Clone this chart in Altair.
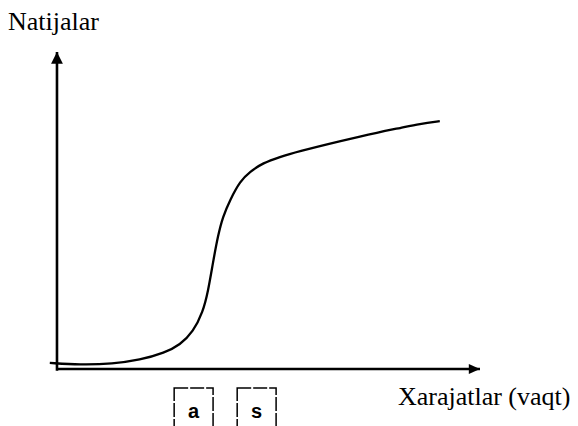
import altair as alt
import pandas as pd

# curve: spending (x) vs results (y), arbitrary units 0..100
curve_x = [-1.7, 5.4, 13.2, 19.6, 25.5, 29.1, 32.2, 34.5, 35.7, 36.9, 38.1, 39.2, 40.9,
           43.3, 45.6, 48.7, 52.7, 56.7, 66.9, 76.4, 81.1, 85.8, 90.5]
curve_y = [1.9, 1.3, 1.6, 2.8, 5.1, 7.6, 11.7, 18.0, 24.3, 33.8, 42.3, 48.0, 53.3,
           59.3, 62.2, 65.0, 66.9, 68.5, 71.9, 74.8, 76.0, 77.3, 78.2]

box_labels = ["a", "s"]
box_x1 = [27.7, 42.6]
box_x2 = [36.9, 51.8]
box_y1 = [-6.0, -6.0]
box_y2 = [-18.5, -18.5]

y_title = "Natijalar"
x_title = "Xarajatlar (vaqt)"

X_DOM = [-11.58, 121.28]
Y_DOM = [-18.0, 113.88]

xs = alt.Scale(domain=X_DOM, nice=False, zero=False)
ys = alt.Scale(domain=Y_DOM, nice=False, zero=False)

curve_df = pd.DataFrame({"x": curve_x, "y": curve_y})
curve = alt.Chart(curve_df).mark_line(color="black", strokeWidth=2.3, interpolate="basis").encode(
    x=alt.X("x:Q", scale=xs, axis=None),
    y=alt.Y("y:Q", scale=ys, axis=None),
)

axes_df = pd.DataFrame({"x": [0, 0], "y": [-0.6, 0], "x2": [0, 100], "y2": [100, 0]})
axes = alt.Chart(axes_df).mark_rule(color="black", strokeWidth=2.6).encode(
    x=alt.X("x:Q", scale=xs, axis=None), y=alt.Y("y:Q", scale=ys, axis=None),
    x2="x2:Q", y2="y2:Q",
)

up_arrow = alt.Chart(pd.DataFrame({"x": [0], "y": [100]})).mark_point(
    shape="M0,0L-0.5,1L0.5,1Z", filled=True, color="black", opacity=1, size=560
).encode(x=alt.X("x:Q", scale=xs, axis=None), y=alt.Y("y:Q", scale=ys, axis=None))

right_arrow = alt.Chart(pd.DataFrame({"x": [100], "y": [0]})).mark_point(
    shape="M0,0L-1,-0.45L-1,0.45Z", filled=True, color="black", opacity=1, size=500
).encode(x=alt.X("x:Q", scale=xs, axis=None), y=alt.Y("y:Q", scale=ys, axis=None))

boxes_df = pd.DataFrame({"label": box_labels, "x1": box_x1, "x2": box_x2, "y1": box_y1, "y2": box_y2,
                         "cx": [(a + b) / 2 for a, b in zip(box_x1, box_x2)],
                         "cy": [-13.6, -13.6]})
boxes = alt.Chart(boxes_df).mark_rect(fill=None, stroke="black", strokeWidth=1.5, strokeDash=[14, 2]).encode(
    x=alt.X("x1:Q", scale=xs, axis=None), x2="x2:Q",
    y=alt.Y("y1:Q", scale=ys, axis=None), y2="y2:Q",
)
box_text = alt.Chart(boxes_df).mark_text(font="Liberation Sans", fontWeight="bold", fontSize=20,
                                         color="black", baseline="middle", align="center").encode(
    x=alt.X("cx:Q", scale=xs, axis=None), y=alt.Y("cy:Q", scale=ys, axis=None), text="label:N"
)

titles_df = pd.DataFrame({"t": [y_title, x_title], "x": [-11.58, 80.6], "y": [106.9, -11.4]})
titles = alt.Chart(titles_df).mark_text(font="Liberation Serif", fontSize=26, color="black",
                                        align="left", baseline="alphabetic").encode(
    x=alt.X("x:Q", scale=xs, axis=None), y=alt.Y("y:Q", scale=ys, axis=None), text="t:N"
)

chart = alt.layer(axes, curve, up_arrow, right_arrow, boxes, box_text, titles).properties(
    width=562, height=418, autosize="none", padding=0
).configure_view(stroke=None)

chart.save("out.html", embed_options={"renderer": "svg", "actions": False})
